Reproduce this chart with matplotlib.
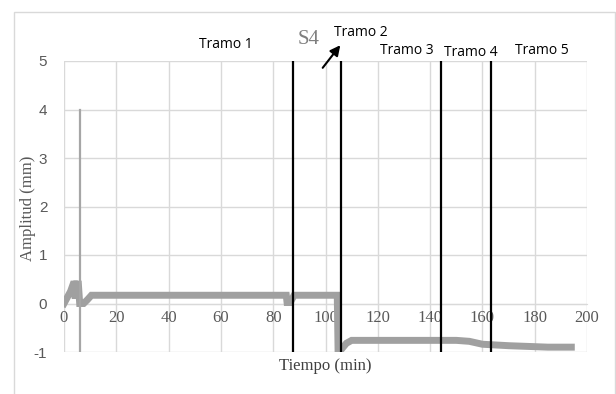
import matplotlib.pyplot as plt
import matplotlib.patches as patches

plt.rcParams['axes.unicode_minus'] = False

# main signal
tiempo = [0, 1.5, 2.5, 3.5, 4.0, 4.3, 4.8, 5.5, 6.0, 7.5, 9.0, 10.5, 85.0, 85.3, 86.5, 88.0,
          104.5, 104.8, 106.0, 108.0, 110.0, 150.0, 155.0, 160.0, 170.0, 185.0, 194.0]
amplitud = [0, 0.15, 0.25, 0.4, 0.4, 0.1, 0.4, 0.4, 0.0, 0.0, 0.08, 0.17, 0.17, 0.02, 0.02, 0.17,
            0.17, -0.95, -0.95, -0.82, -0.76, -0.76, -0.78, -0.84, -0.87, -0.9, -0.9]

# spike
spike_t = [6.1, 6.1]
spike_a = [4.0, -1.0]

# section limits
tramos_x = [87.6, 105.9, 144.3, 163.3]
tramos_lbl = ['Tramo 1', 'Tramo 2', 'Tramo 3', 'Tramo 4', 'Tramo 5']

fig = plt.figure(figsize=(6.16, 3.94), dpi=100)
ax = fig.add_axes([64/616, 1-352/394, 523/616, 291/394])

# outer frame
fig.patches.append(patches.Rectangle((14/616, -0.05), 601/616, 1.05-12/394, transform=fig.transFigure,
                                     fill=False, edgecolor='#d9d9d9', linewidth=1))

ax.plot(tiempo, amplitud, color='#a0a0a0', linewidth=5, solid_joinstyle='miter', zorder=3)
ax.plot(spike_t, spike_a, color='#a6a6a6', linewidth=1.6, zorder=3)

for x in tramos_x:
    ax.plot([x, x], [-1, 5], color='black', linewidth=1.6, zorder=4)

ax.set_xlim(0, 200)
ax.set_ylim(-1, 5)
ax.set_xticks(range(0, 201, 20))
ax.set_yticks(range(-1, 6))
ax.grid(True, color='#d9d9d9', linewidth=1)
ax.set_axisbelow(True)
for s in ['top', 'right', 'left']:
    ax.spines[s].set_visible(False)
ax.spines['bottom'].set_position(('data', 0))
ax.spines['bottom'].set_color('#d9d9d9')
ax.tick_params(length=0, colors='#595959')
for t in ax.get_xticklabels():
    t.set_fontfamily('Liberation Serif')
    t.set_fontsize(12)
for t in ax.get_yticklabels():
    t.set_fontfamily('Liberation Sans')
    t.set_fontsize(11)
ax.tick_params(axis='y', pad=12)
ax.tick_params(axis='x', pad=5)

fig.text(28/616, 1-208/394, 'Amplitud (mm)', rotation=90, ha='center', va='center',
         fontfamily='Liberation Serif', fontsize=12, color='#595959')
fig.text(325/616, 1-366/394, 'Tiempo (min)', ha='center', va='center',
         fontfamily='Liberation Serif', fontsize=12, color='#404040')
fig.text(309/616, 1-40/394, 'S4', ha='center', va='center',
         fontfamily='Liberation Serif', fontsize=15, color='#7f7f7f')

pos = [(226, 45), (361, 33), (407, 51), (471, 52), (542, 50)]
for lbl, (px, py) in zip(tramos_lbl, pos):
    fig.text(px/616, 1-py/394, lbl, ha='center', va='center', fontfamily='Open Sans',
             fontsize=10, color='black')

ax.annotate('', xy=(342/616, 1-43/394), xytext=(321/616, 1-70/394),
            xycoords='figure fraction', textcoords='figure fraction',
            arrowprops=dict(arrowstyle='-|>', color='black', lw=1.5, mutation_scale=15))

fig.savefig('out.png', dpi=100)
